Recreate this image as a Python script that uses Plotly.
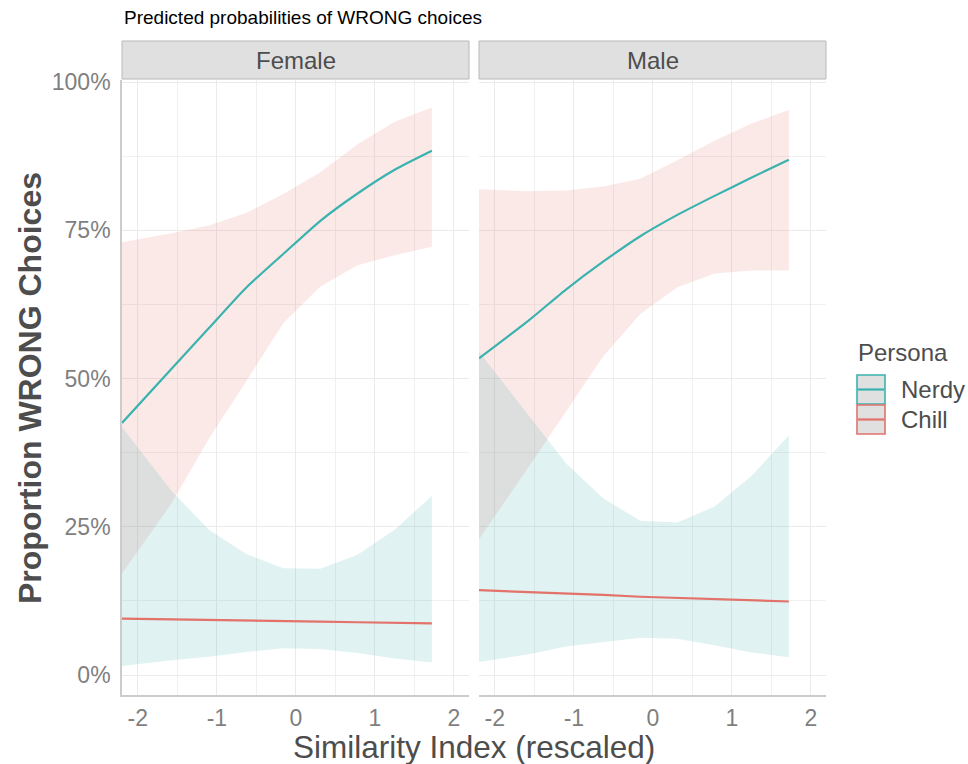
import plotly.graph_objects as go

# ---------------- data ----------------
x_vals = [-2.2, -1.57, -1.10, -0.63, -0.16, 0.31, 0.78, 1.25, 1.72]

female_nerdy    = [0.425, 0.517, 0.585, 0.653, 0.710, 0.766, 0.812, 0.852, 0.884]
female_nerdy_hi = [0.730, 0.745, 0.758, 0.779, 0.811, 0.848, 0.895, 0.933, 0.957]
female_nerdy_lo = [0.171, 0.290, 0.399, 0.495, 0.593, 0.655, 0.691, 0.708, 0.722]
female_chill    = [0.095, 0.094, 0.093, 0.092, 0.091, 0.090, 0.089, 0.088, 0.087]
female_chill_hi = [0.418, 0.310, 0.245, 0.204, 0.180, 0.179, 0.203, 0.245, 0.302]
female_chill_lo = [0.015, 0.025, 0.031, 0.039, 0.045, 0.044, 0.037, 0.028, 0.021]

male_nerdy    = [0.534, 0.598, 0.650, 0.697, 0.740, 0.776, 0.808, 0.839, 0.869]
male_nerdy_hi = [0.819, 0.816, 0.817, 0.824, 0.837, 0.868, 0.901, 0.930, 0.953]
male_nerdy_lo = [0.229, 0.351, 0.443, 0.537, 0.609, 0.654, 0.677, 0.682, 0.682]
male_chill    = [0.143, 0.140, 0.137, 0.135, 0.132, 0.130, 0.128, 0.126, 0.124]
male_chill_hi = [0.545, 0.437, 0.357, 0.298, 0.260, 0.257, 0.284, 0.336, 0.404]
male_chill_lo = [0.022, 0.035, 0.048, 0.055, 0.063, 0.061, 0.050, 0.038, 0.030]

panels = ["Female", "Male"]
personas = ["Nerdy", "Chill"]
x_tickvals = [-2, -1, 0, 1, 2]
x_ticktext = ["-2", "-1", "0", "1", "2"]
y_tickvals = [0, 0.25, 0.5, 0.75, 1.0]

# ---------------- styling ----------------
W, H = 968, 764
FONT = "Liberation Sans, Arial, Helvetica, sans-serif"
TEAL = "#3AB2AE"
RED = "#E2726A"
PINK_FILL = "rgba(228,108,102,0.15)"
TEAL_FILL = "rgba(48,168,168,0.15)"
GRID = "#ebebeb"
MINOR = "#f0f0f0"
AXLINE = "#cccccc"


def px(x):
    return x / W


def py(y):
    return 1 - y / H


fig = go.Figure()

data = {
    "Female": (female_nerdy, female_nerdy_lo, female_nerdy_hi,
               female_chill, female_chill_lo, female_chill_hi),
    "Male": (male_nerdy, male_nerdy_lo, male_nerdy_hi,
             male_chill, male_chill_lo, male_chill_hi),
}

for i, p in enumerate(panels):
    xa = "x" if i == 0 else "x2"
    ya = "y" if i == 0 else "y2"
    n, n_lo, n_hi, c, c_lo, c_hi = data[p]
    fig.add_trace(go.Scatter(
        x=x_vals + x_vals[::-1], y=n_hi + n_lo[::-1],
        fill="toself", fillcolor=PINK_FILL, line=dict(width=0),
        mode="lines", hoverinfo="skip", showlegend=False, xaxis=xa, yaxis=ya))
    fig.add_trace(go.Scatter(
        x=x_vals + x_vals[::-1], y=c_hi + c_lo[::-1],
        fill="toself", fillcolor=TEAL_FILL, line=dict(width=0),
        mode="lines", hoverinfo="skip", showlegend=False, xaxis=xa, yaxis=ya))
    fig.add_trace(go.Scatter(
        x=x_vals, y=n, mode="lines", line=dict(color=TEAL, width=2.2, shape="spline", smoothing=0.6),
        name=personas[0], showlegend=False, xaxis=xa, yaxis=ya))
    fig.add_trace(go.Scatter(
        x=x_vals, y=c, mode="lines", line=dict(color=RED, width=2.2),
        name=personas[1], showlegend=False, xaxis=xa, yaxis=ya))

xr = [-2.2, 2.19]
yr = [-0.0337, 1.0034]
dom_y = [py(695), py(80)]

common_x = dict(
    range=xr, tickvals=x_tickvals, ticktext=x_ticktext,
    showgrid=True, gridcolor=GRID, gridwidth=1.4, zeroline=False,
    minor=dict(tickvals=[-1.5, -0.5, 0.5, 1.5], showgrid=True,
               gridcolor=MINOR, gridwidth=1.0),
    showline=True, linecolor=AXLINE, linewidth=1.6,
    ticks="", tickfont=dict(family=FONT, size=23, color="#7f7f7f"),
    ticklabelstandoff=2, fixedrange=True,
)
common_y = dict(
    range=yr, tickvals=y_tickvals, tickformat=".0%",
    showgrid=True, gridcolor=GRID, gridwidth=1.4, zeroline=False,
    minor=dict(tickvals=[0.125, 0.375, 0.625, 0.875], showgrid=True,
               gridcolor=MINOR, gridwidth=1.0),
    ticks="", tickfont=dict(family=FONT, size=23, color="#7f7f7f"),
    fixedrange=True, domain=dom_y,
)

fig.update_layout(
    width=W, height=H,
    margin=dict(l=0, r=0, t=0, b=0),
    paper_bgcolor="white", plot_bgcolor="white",
    template="none",
    showlegend=False,
    xaxis=dict(domain=[px(122), px(469)], anchor="y", **common_x),
    xaxis2=dict(domain=[px(479), px(826)], anchor="y2", **common_x),
    yaxis=dict(anchor="x", showline=True, linecolor=AXLINE, linewidth=1.6,
               showticklabels=True, ticklabelstandoff=5, **common_y),
    yaxis2=dict(anchor="x2", showline=False, showticklabels=False, **common_y),
)

shapes = []
annotations = []

# facet strips
for (x0, x1), lab in zip([(122, 469), (479, 826)], panels):
    shapes.append(dict(type="rect", xref="paper", yref="paper",
                       x0=px(x0), x1=px(x1), y0=py(79), y1=py(41),
                       fillcolor="#e0e0e0", line=dict(color="#b8b8b8", width=1),
                       layer="above"))
    annotations.append(dict(xref="paper", yref="paper", x=px((x0 + x1) / 2), y=py(60),
                            text=lab, showarrow=False, xanchor="center", yanchor="middle",
                            font=dict(family=FONT, size=24, color="#4d4d4d")))

# title
annotations.append(dict(xref="paper", yref="paper", x=px(122), y=py(18),
                        text="Predicted probabilities of WRONG choices", showarrow=False,
                        xanchor="left", yanchor="middle",
                        font=dict(family=FONT, size=19, color="#000000")))
# axis titles
annotations.append(dict(xref="paper", yref="paper", x=px(474), y=py(747),
                        text="Similarity Index (rescaled)", showarrow=False,
                        xanchor="center", yanchor="middle",
                        font=dict(family=FONT, size=31.5, color="#4d4d4d")))
annotations.append(dict(xref="paper", yref="paper", x=px(30), y=py(388),
                        text="<b>Proportion WRONG Choices</b>", showarrow=False,
                        textangle=-90, xanchor="center", yanchor="middle",
                        font=dict(family=FONT, size=32, color="#4d4d4d")))

# legend (drawn manually to mimic ggplot keys)
annotations.append(dict(xref="paper", yref="paper", x=px(856), y=py(352),
                        text="Persona", showarrow=False, xanchor="left", yanchor="middle",
                        font=dict(family=FONT, size=24, color="#4d4d4d")))
for k, (lab, col) in enumerate(zip(personas, [TEAL, RED])):
    y0 = 375 + k * 30
    y1 = y0 + 29
    shapes.append(dict(type="rect", xref="paper", yref="paper",
                       x0=px(857), x1=px(885), y0=py(y1), y1=py(y0),
                       fillcolor="#e0e0e0", line=dict(color=col, width=1.6)))
    shapes.append(dict(type="line", xref="paper", yref="paper",
                       x0=px(858), x1=px(884), y0=py((y0 + y1) / 2), y1=py((y0 + y1) / 2),
                       line=dict(color=col, width=2.2)))
    annotations.append(dict(xref="paper", yref="paper", x=px(899), y=py((y0 + y1) / 2),
                            text=lab, showarrow=False, xanchor="left", yanchor="middle",
                            font=dict(family=FONT, size=24, color="#4d4d4d")))

fig.update_layout(shapes=shapes, annotations=annotations)

fig.write_html("out.html")
